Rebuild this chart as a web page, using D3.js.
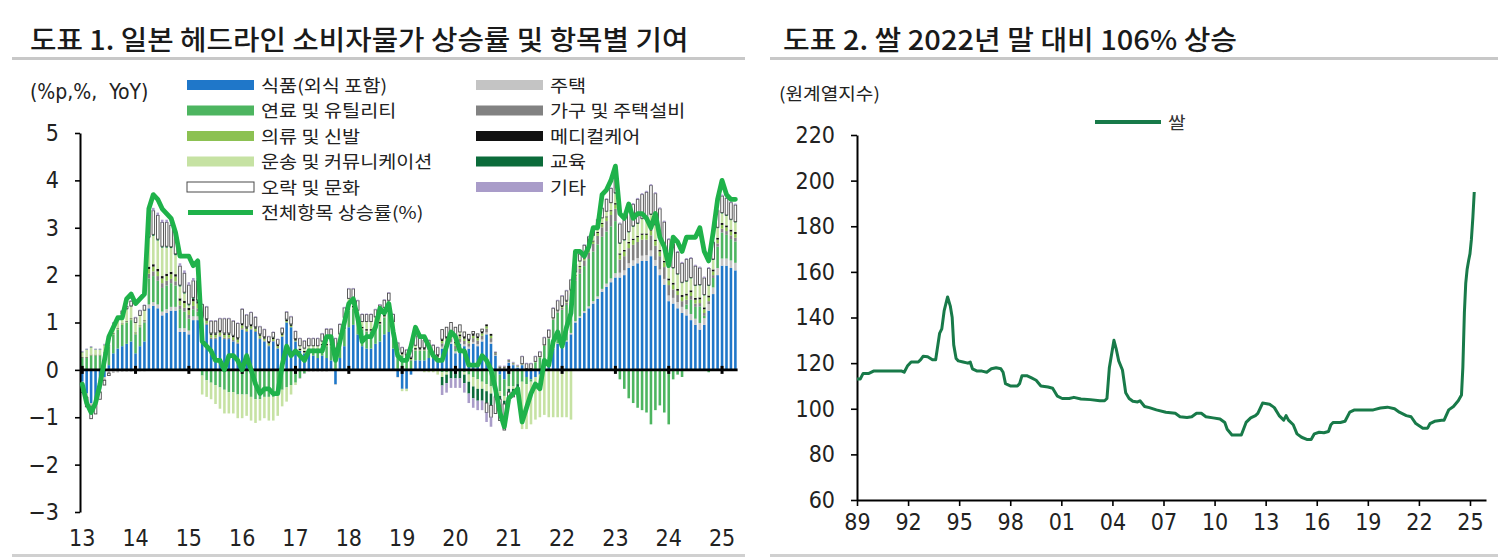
<!DOCTYPE html>
<html><head><meta charset="utf-8">
<script src="https://cdn.jsdelivr.net/npm/d3@7"></script>
<style>
html,body{margin:0;padding:0;background:#fff;}
svg{display:block;}
</style></head>
<body>
<svg id="chart" width="1500" height="560"></svg>
<script>
// ---------------- Chart 1 data (monthly, Jan 2013 - Apr 2025, %p contributions) ----------------
const startYear = 2013;
const yearLabels = ["13","14","15","16","17","18","19","20","21","22","23","24","25"];
const yTicksLeft = [-3,-2,-1,0,1,2,3,4,5];

const food = [
-0.25,-0.5,-0.7,-0.65,-0.4,-0.15,0.1,0.35,0.45,0.5,0.55,0.6,
0.35,0.5,0.6,1.3,1.35,1.3,1.15,1.2,1.25,1.25,0.8,0.8,
0.75,1.05,1.05,1.0,0.95,0.65,0.65,0.7,0.65,0.65,0.6,0.55,
0.85,0.8,0.85,0.8,0.65,0.6,0.5,0.6,0.45,0.7,1.0,0.9,
0.6,0.4,0.35,0.35,0.3,0.25,0.3,0.25,0.2,-0.3,0.25,0.5,
0.9,0.95,0.75,0.5,0.45,0.45,0.55,0.6,0.75,0.8,0.45,-0.15,
-0.4,-0.4,-0.1,0.2,0.2,0.2,0.25,0.25,0.25,0.45,0.5,0.55,
0.35,0.55,0.5,0.45,0.55,0.5,0.6,0.75,0.55,0.3,-0.1,-0.2,
0.15,0.1,0.05,0.1,-0.15,-0.2,-0.15,-0.1,0.15,0.2,0.45,0.55,
0.55,0.6,0.75,1.0,1.1,1.2,1.3,1.4,1.5,1.65,1.75,1.85,
1.95,1.95,2.0,2.15,2.2,2.25,2.3,2.3,2.4,2.2,2.0,1.8,
1.45,1.4,1.3,1.2,1.15,1.05,0.95,0.85,0.95,1.25,1.6,2.0,
2.2,2.2,2.15,2.1];

const housing = [
-0.05,-0.05,-0.05,-0.05,-0.05,-0.05,-0.05,-0.05,-0.04,-0.04,-0.04,-0.04,
-0.03,-0.03,-0.03,0.08,0.08,0.08,0.08,0.08,0.08,0.08,0.08,0.08,
0.08,0.08,0.08,-0.02,-0.02,-0.02,-0.02,-0.02,-0.02,-0.02,-0.02,-0.02,
-0.02,-0.02,-0.02,-0.02,-0.02,-0.02,-0.02,-0.02,-0.02,-0.02,-0.02,-0.02,
-0.02,-0.02,-0.02,-0.02,-0.02,-0.02,-0.02,-0.02,-0.02,-0.02,-0.02,-0.02,
-0.01,-0.01,-0.01,-0.01,-0.01,-0.01,-0.01,-0.01,-0.01,-0.01,-0.01,-0.01,
0.0,0.0,0.0,0.0,0.0,0.0,0.0,0.0,0.0,0.04,0.04,0.04,
0.04,0.04,0.04,0.04,0.04,0.04,0.04,0.04,0.04,0.01,0.01,0.01,
0.01,0.01,0.01,0.01,0.01,0.01,0.01,0.01,0.01,0.01,0.01,0.01,
0.02,0.02,0.03,0.03,0.03,0.04,0.04,0.05,0.05,0.06,0.07,0.08,
0.09,0.1,0.1,0.1,0.11,0.11,0.11,0.12,0.12,0.12,0.12,0.12,
0.12,0.12,0.13,0.13,0.13,0.13,0.13,0.14,0.14,0.14,0.14,0.15,
0.15,0.15,0.16,0.16];

const fuel = [
0.25,0.25,0.3,0.3,0.3,0.35,0.4,0.4,0.4,0.45,0.45,0.45,
0.4,0.4,0.4,0.55,0.55,0.5,0.5,0.5,0.5,0.45,0.4,0.35,
0.25,0.15,0.1,-0.1,-0.2,-0.25,-0.3,-0.35,-0.4,-0.45,-0.45,-0.5,
-0.5,-0.5,-0.55,-0.6,-0.6,-0.55,-0.55,-0.55,-0.5,-0.4,-0.35,-0.3,
-0.25,-0.15,-0.05,0.05,0.1,0.15,0.2,0.25,0.3,0.3,0.3,0.35,
0.35,0.35,0.35,0.35,0.35,0.35,0.35,0.35,0.35,0.4,0.4,0.35,
0.3,0.25,0.2,0.2,0.2,0.2,0.15,0.05,0.0,-0.05,-0.05,0.0,
0.05,0.0,-0.05,-0.1,-0.15,-0.2,-0.25,-0.3,-0.35,-0.35,-0.35,-0.35,
-0.35,-0.35,-0.3,-0.25,-0.15,-0.05,0.15,0.25,0.35,0.45,0.6,0.65,
0.7,0.75,0.8,0.85,0.9,0.95,1.0,1.05,1.1,1.1,1.1,1.1,
1.1,-0.2,-0.4,-0.6,-0.7,-0.8,-0.85,-0.9,-1.15,-0.85,-0.75,-0.9,
-1.15,-0.2,-0.1,-0.15,0.1,0.3,0.25,0.35,0.05,-0.05,0.2,0.45,
0.55,0.5,0.45,0.45];

const furniture = [
-0.03,-0.03,-0.03,-0.03,-0.02,-0.02,-0.02,-0.01,-0.01,0.0,0.0,0.01,
0.01,0.01,0.02,0.1,0.1,0.1,0.1,0.1,0.09,0.09,0.08,0.08,
0.08,0.07,0.07,0.03,0.03,0.03,0.03,0.03,0.03,0.03,0.03,0.03,
0.03,0.02,0.02,0.02,0.02,0.02,0.02,0.01,0.01,0.01,0.0,0.0,
0.0,-0.01,-0.01,-0.01,-0.01,-0.01,-0.01,-0.01,0.0,0.0,0.0,0.0,
0.0,0.0,0.0,0.01,0.01,0.01,0.01,0.01,0.01,0.01,0.01,0.01,
0.01,0.01,0.01,0.01,0.01,0.01,0.01,0.01,0.01,0.07,0.07,0.07,
0.07,0.07,0.07,0.07,0.08,0.08,0.08,0.08,0.08,0.03,0.03,0.03,
0.03,0.02,0.01,0.0,0.0,0.0,0.0,0.0,0.0,0.01,0.02,0.03,
0.04,0.05,0.06,0.08,0.1,0.12,0.14,0.16,0.18,0.2,0.22,0.24,
0.26,0.28,0.3,0.32,0.33,0.34,0.34,0.33,0.32,0.3,0.28,0.25,
0.22,0.18,0.15,0.12,0.1,0.08,0.07,0.07,0.06,0.06,0.06,0.07,
0.08,0.08,0.08,0.08];

const clothing = [
0.01,0.01,0.01,0.01,0.01,0.01,0.01,0.02,0.02,0.02,0.02,0.02,
0.02,0.02,0.02,0.1,0.1,0.1,0.1,0.1,0.1,0.1,0.1,0.1,
0.1,0.1,0.1,0.06,0.06,0.06,0.06,0.06,0.06,0.06,0.06,0.06,
0.06,0.05,0.05,0.05,0.05,0.04,0.04,0.04,0.04,0.03,0.03,0.03,
0.02,0.02,0.02,0.02,0.02,0.02,0.02,0.02,0.02,0.02,0.02,0.02,
0.02,0.02,0.02,0.02,0.02,0.02,0.02,0.02,0.02,0.02,0.02,0.02,
0.02,0.02,0.02,0.02,0.02,0.02,0.02,0.02,0.02,0.05,0.05,0.05,
0.05,0.05,0.05,0.05,0.05,0.05,0.05,0.05,0.05,0.01,0.01,0.01,
0.01,0.01,0.01,0.01,0.01,0.01,0.01,0.01,0.01,0.01,0.01,0.01,
0.02,0.02,0.03,0.03,0.04,0.04,0.05,0.05,0.06,0.07,0.08,0.08,
0.09,0.1,0.1,0.1,0.1,0.1,0.1,0.1,0.1,0.1,0.1,0.1,
0.1,0.1,0.09,0.09,0.09,0.08,0.08,0.08,0.08,0.08,0.08,0.08,
0.08,0.08,0.08,0.08];

const medical = [
0.01,0.01,0.01,0.01,0.01,0.01,0.01,0.01,0.01,0.01,0.01,0.01,
0.01,0.01,0.01,0.05,0.05,0.05,0.05,0.05,0.05,0.05,0.05,0.05,
0.05,0.05,0.05,0.03,0.03,0.03,0.03,0.03,0.03,0.03,0.03,0.03,
0.03,0.03,0.03,0.03,0.03,0.03,0.03,0.03,0.03,0.03,0.03,0.03,
0.03,0.03,0.03,0.03,0.03,0.03,0.03,0.03,0.03,0.03,0.03,0.03,
0.03,0.03,0.03,0.03,0.03,0.03,0.03,0.03,0.03,0.03,0.03,0.03,
0.03,0.03,0.03,0.03,0.03,0.03,0.03,0.03,0.03,0.04,0.04,0.04,
0.04,0.04,0.04,0.04,0.04,0.04,0.04,0.04,0.04,0.02,0.02,0.02,
0.01,0.01,0.01,0.01,0.01,0.01,0.01,0.01,0.01,0.01,0.01,0.01,
0.02,0.02,0.02,0.02,0.02,0.02,0.02,0.02,0.02,0.02,0.02,0.02,
0.03,0.03,0.03,0.03,0.03,0.03,0.03,0.03,0.03,0.03,0.03,0.03,
0.04,0.04,0.04,0.04,0.04,0.04,0.04,0.04,0.04,0.04,0.04,0.04,
0.04,0.04,0.04,0.04];

const transport = [
0.1,0.15,0.15,0.1,0.1,0.15,0.2,0.2,0.2,0.2,0.25,0.25,
0.2,0.2,0.2,0.6,0.6,0.6,0.6,0.55,0.5,0.4,0.25,0.15,
0.05,0.0,0.0,-0.4,-0.35,-0.35,-0.4,-0.45,-0.5,-0.45,-0.45,-0.5,
-0.5,-0.45,-0.5,-0.5,-0.45,-0.45,-0.5,-0.5,-0.45,-0.35,-0.3,-0.2,
-0.05,0.05,0.05,0.05,0.05,0.05,0.05,0.1,0.1,0.1,0.15,0.2,
0.2,0.15,0.1,0.1,0.15,0.15,0.15,0.2,0.15,0.2,0.1,0.0,
-0.05,-0.05,0.0,0.05,0.0,-0.05,-0.05,-0.05,-0.1,-0.1,-0.05,0.05,
0.1,0.05,-0.05,-0.15,-0.2,-0.2,-0.15,-0.15,-0.15,-0.15,-0.1,-0.1,
-0.05,-0.05,0.0,-1.0,-0.95,-0.9,-0.9,-0.9,-0.95,-1.0,-1.0,-1.0,
-1.0,-1.0,-1.05,0.05,0.1,0.1,0.1,0.1,0.1,0.1,0.1,0.15,
0.2,0.2,0.2,0.2,0.25,0.25,0.3,0.3,0.3,0.3,0.3,0.3,
0.3,0.3,0.3,0.25,0.25,0.25,0.25,0.25,0.25,0.2,0.2,0.2,
0.2,0.2,0.2,0.2];

const education = [
0.01,0.01,0.01,0.01,0.01,0.01,0.01,0.01,0.01,0.01,0.01,0.01,
0.01,0.01,0.01,0.03,0.03,0.03,0.03,0.03,0.03,0.03,0.03,0.03,
0.03,0.03,0.03,0.01,0.01,0.01,0.01,0.01,0.01,0.01,0.01,0.01,
0.01,0.01,0.01,0.01,0.01,0.01,0.01,0.01,0.01,0.01,0.01,0.01,
0.01,0.01,0.01,0.01,0.01,0.01,0.01,0.01,0.01,0.01,0.01,0.01,
0.01,0.01,0.01,0.01,0.01,0.01,0.01,0.01,0.01,0.01,0.01,0.01,
0.01,0.01,0.01,0.01,0.01,0.01,0.01,0.01,0.01,-0.18,-0.18,-0.18,
-0.18,-0.18,-0.18,-0.25,-0.25,-0.25,-0.25,-0.25,-0.25,-0.07,-0.07,-0.07,
-0.07,-0.07,-0.07,0.0,0.0,0.0,0.0,0.0,0.0,0.0,0.0,0.0,
0.01,0.01,0.01,0.01,0.01,0.01,0.01,0.01,0.01,0.01,0.01,0.01,
0.02,0.02,0.02,0.02,0.02,0.02,0.02,0.02,0.02,0.02,0.02,0.02,
0.02,0.02,0.02,0.02,0.02,0.02,0.02,0.02,0.02,0.02,0.02,0.02,
0.02,0.02,0.02,0.02];

const recreation = [
-0.15,-0.2,-0.25,-0.2,-0.15,-0.1,-0.05,0.0,0.0,0.05,0.05,0.1,
0.1,0.1,0.1,0.5,0.5,0.5,0.5,0.5,0.45,0.45,0.4,0.4,
0.4,0.35,0.4,0.25,0.25,0.25,0.25,0.25,0.3,0.3,0.3,0.3,
0.3,0.25,0.25,0.2,0.15,0.15,0.1,0.1,0.1,0.1,0.15,0.15,
0.15,0.15,0.15,0.15,0.15,0.15,0.15,0.2,0.2,0.2,0.2,0.2,
0.2,0.2,0.2,0.15,0.15,0.15,0.15,0.15,0.15,0.15,0.15,0.15,
0.1,0.1,0.15,0.2,0.2,0.15,0.15,0.15,0.15,0.2,0.2,0.2,
0.2,0.15,0.1,0.1,0.05,0.05,0.05,-0.2,-0.25,-0.35,-0.45,-0.55,
-0.1,-0.1,-0.05,0.15,0.1,0.1,0.1,0.1,0.15,0.15,0.2,0.2,
0.2,0.2,0.2,0.15,0.15,0.15,0.15,0.15,0.15,0.2,0.25,0.3,
0.35,0.4,0.4,0.5,0.45,0.5,0.5,0.55,0.6,0.65,0.55,0.5,
0.5,0.5,0.45,0.4,0.45,0.4,0.4,0.35,0.35,0.35,0.35,0.35,
0.35,0.35,0.35,0.35];

const other = [
0.02,0.02,0.02,0.02,0.02,0.02,0.02,0.02,0.02,0.02,0.02,0.02,
0.02,0.02,0.02,0.06,0.06,0.06,0.06,0.06,0.06,0.06,0.06,0.06,
0.06,0.06,0.06,0.02,0.02,0.02,0.02,0.02,0.02,0.02,0.02,0.02,
0.02,0.02,0.02,0.02,0.02,0.02,0.02,0.02,0.02,0.02,0.02,0.02,
0.02,0.02,0.02,0.02,0.02,0.02,0.02,0.02,0.02,0.02,0.02,0.02,
0.02,0.02,0.02,0.02,0.02,0.02,0.02,0.02,0.02,0.02,0.02,0.02,
0.02,0.02,0.02,0.02,0.02,0.02,0.02,0.02,0.02,-0.2,-0.2,-0.2,
-0.2,-0.2,-0.2,-0.2,-0.2,-0.2,-0.2,-0.2,-0.2,0.02,0.02,0.02,
0.02,0.02,0.02,0.02,0.02,0.02,0.02,0.02,0.02,0.02,0.02,0.02,
0.02,0.02,0.02,0.02,0.02,0.02,0.02,0.02,0.02,0.02,0.02,0.02,
0.03,0.03,0.03,0.03,0.03,0.03,0.03,0.03,0.03,0.03,0.03,0.03,
0.03,0.03,0.03,0.03,0.03,0.03,0.03,0.03,0.03,0.03,0.03,0.03,
0.03,0.03,0.03,0.03];

const totalCPI = [
-0.3,-0.7,-0.9,-0.7,-0.3,0.2,0.7,0.9,1.1,1.1,1.5,1.6,
1.4,1.5,1.6,3.4,3.7,3.6,3.4,3.3,3.2,2.9,2.4,2.4,
2.4,2.2,2.3,0.6,0.5,0.4,0.2,0.2,0.0,0.3,0.3,0.2,
0.0,0.3,0.0,-0.3,-0.5,-0.4,-0.4,-0.5,-0.5,0.1,0.5,0.3,
0.4,0.3,0.2,0.4,0.4,0.4,0.4,0.7,0.7,0.2,0.6,1.0,
1.4,1.5,1.1,0.6,0.7,0.7,0.9,1.3,1.2,1.4,0.8,0.3,
0.2,0.2,0.5,0.9,0.7,0.7,0.5,0.3,0.2,0.2,0.5,0.8,
0.7,0.4,0.4,0.1,0.1,0.1,0.3,0.2,0.0,-0.4,-0.9,-1.2,
-0.6,-0.5,-0.4,-1.1,-0.8,-0.5,-0.3,-0.4,0.2,0.1,0.6,0.8,
0.5,0.9,1.2,2.5,2.5,2.4,2.6,3.0,3.0,3.7,3.8,4.0,
4.3,3.3,3.2,3.5,3.2,3.3,3.3,3.2,3.0,3.3,2.8,2.6,
2.2,2.8,2.7,2.5,2.8,2.8,2.8,3.0,2.5,2.3,2.9,3.6,
4.0,3.7,3.6,3.6];

// ---------------- Chart 2 data (rice CPI, original series) ----------------
const riceDates = [
1989.00,1989.19,1989.36,1989.70,1989.97,1991.63,1991.77,1991.96,1992.18,1992.60,
1992.74,1992.88,1993.15,1993.43,1993.62,1993.85,1993.98,1994.12,1994.32,1994.48,
1994.59,1994.68,1994.82,1994.95,1995.23,1995.51,1995.65,1995.78,1996.06,1996.34,
1996.62,1996.89,1997.17,1997.45,1997.58,1997.72,1998.00,1998.42,1998.55,1998.69,
1998.97,1999.25,1999.52,1999.80,2000.22,2000.49,2000.77,2001.05,2001.46,2001.74,
2002.15,2002.71,2003.26,2003.54,2003.68,2003.82,2004.09,2004.23,2004.37,2004.59,
2004.78,2004.98,2005.20,2005.48,2005.62,2005.89,2006.17,2006.58,2007.14,2007.69,
2007.97,2008.38,2008.66,2008.94,2009.22,2009.49,2009.91,2010.32,2010.60,2010.74,
2011.02,2011.57,2011.85,2012.12,2012.40,2012.54,2012.82,2013.23,2013.51,2013.79,
2014.06,2014.20,2014.34,2014.62,2014.84,2015.11,2015.45,2015.67,2015.86,2016.14,
2016.42,2016.69,2016.83,2016.97,2017.39,2017.66,2017.94,2018.22,2018.77,2019.32,
2019.74,2020.15,2020.57,2020.85,2021.26,2021.54,2021.82,2022.23,2022.51,2022.65,
2022.92,2023.34,2023.48,2023.75,2024.03,2024.31,2024.50,2024.58,2024.67,2024.75,
2024.83,2024.92,2025.00,2025.08,2025.17,2025.25];
const riceValues = [
113,113,115.5,115.5,116.5,116.5,116,118.7,120.5,120.5,
121.5,123,122.8,121.5,121.5,133,135,143,149,145,
140,128,122,121,120.5,120,120.5,117.5,116.5,116.5,
116,117.5,118,117.5,116,111,110,110,111,114.5,
114.5,113.5,112.5,110,109.5,109,105.5,104.5,104.5,105,
104.3,104,103.5,103.5,104.5,118,130,126,121,117,
107,104.5,103.3,103,103.5,101,100.5,99.5,98.5,98,
96.5,96.2,96.5,98,98,96.5,96,95.5,94,91,
88.5,88.5,94,96,97,98,102.5,102,100.5,97,
95,97,95,93,89,87.5,86.5,86.5,89,89.7,
89.5,90,93,94,94,94.5,98.5,99.5,99.5,99.5,
100.3,100.7,100,98.5,97,96.5,93.5,91.5,91.5,93.5,
94.5,95,95,99.5,101,103.5,106,118,142,155,
161,165,168,174,184,195];
const riceYearTicks = [1989,1992,1995,1998,2001,2004,2007,2010,2013,2016,2019,2022,2025];
const riceYTicks = [60,80,100,120,140,160,180,200,220];

// ---------------- series meta (stack order follows legend row order) ----------------
const seriesDefs = [
  {key:"food",       name:"식품(외식 포함)",     values:food,       fill:"#1f77c9"},
  {key:"housing",    name:"주택",               values:housing,    fill:"#c4c4c4"},
  {key:"fuel",       name:"연료 및 유틸리티",     values:fuel,       fill:"#4db560"},
  {key:"furniture",  name:"가구 및 주택설비",     values:furniture,  fill:"#828282"},
  {key:"clothing",   name:"의류 및 신발",         values:clothing,   fill:"#8cc152"},
  {key:"medical",    name:"메디컬케어",           values:medical,    fill:"#111111"},
  {key:"transport",  name:"운송 및 커뮤니케이션",  values:transport,  fill:"#c6e2a3"},
  {key:"education",  name:"교육",               values:education,  fill:"#0b6b3a"},
  {key:"recreation", name:"오락 및 문화",         values:recreation, fill:"#ffffff", stroke:"#4a4a4a"},
  {key:"other",      name:"기타",               values:other,      fill:"#a99cc9"}
];

const KR = "'Noto Sans CJK KR','Noto Sans',sans-serif";
const NUM = "'Liberation Sans Narrow','DejaVu Sans Condensed','Liberation Sans',sans-serif";
const svg = d3.select("#chart");

// frame lines
svg.append("rect").attr("x",12).attr("y",57).attr("width",733).attr("height",3).attr("fill","#c8c8c8");
svg.append("rect").attr("x",770).attr("y",57).attr("width",728).attr("height",3).attr("fill","#c8c8c8");
svg.append("rect").attr("x",12).attr("y",554).attr("width",733).attr("height",3).attr("fill","#d0d0d0");
svg.append("rect").attr("x",770).attr("y",554).attr("width",728).attr("height",3).attr("fill","#d0d0d0");

// titles
function wideText(x, y, txt, size, sx, weight, fill) {
  return svg.append("text").attr("transform",`translate(${x},${y}) scale(${sx},1)`).text(txt)
    .attr("font-family",KR).attr("font-size",size).attr("font-weight",weight).attr("fill",fill);
}
wideText(30, 50, "도표 1. 일본 헤드라인 소비자물가 상승률 및 항목별 기여", 27, 1.065, 500, "#1a1a1a");
wideText(783, 50, "도표 2. 쌀 2022년 말 대비 106% 상승", 27, 1.075, 500, "#1a1a1a");

// ================= LEFT CHART =================
const n = totalCPI.length;
const months = d3.range(n);
const rows = months.map(i => {
  const r = {i};
  seriesDefs.forEach(s => r[s.key] = s.values[i]);
  return r;
});
const xL = d3.scaleBand().domain(months).range([80, 737.6]).paddingInner(0.42).paddingOuter(0.21);
const yL = d3.scaleLinear().domain([-3,5]).range([512,133]);
const cx = i => xL(i) + xL.bandwidth()/2;

const stack = d3.stack().keys(seriesDefs.map(s=>s.key)).offset(d3.stackOffsetDiverging);
const stacked = stack(rows);

const gBars = svg.append("g");
stacked.forEach((layer, li) => {
  const s = seriesDefs[li];
  gBars.append("g")
    .selectAll("rect").data(layer).join("rect")
    .attr("x", d => xL(d.data.i))
    .attr("width", xL.bandwidth())
    .attr("y", d => yL(Math.max(d[0], d[1])))
    .attr("height", d => Math.abs(yL(d[0]) - yL(d[1])))
    .attr("fill", s.fill)
    .attr("stroke", s.stroke || "none")
    .attr("stroke-width", s.stroke ? 0.9 : 0);
});

// zero line + year ticks
svg.append("line").attr("x1",80).attr("x2",737.6).attr("y1",yL(0)).attr("y2",yL(0))
  .attr("stroke","#000").attr("stroke-width",2.6);
const janIdx = yearLabels.map((_,k)=>k*12);
svg.append("g").selectAll("rect").data(janIdx).join("rect")
  .attr("x", i => cx(i)-1.5).attr("width",3)
  .attr("y", yL(0)-4).attr("height",8).attr("fill","#000");

// left y axis
const axL = d3.axisLeft(yL).tickValues(yTicksLeft).tickSize(5).tickSizeOuter(0).tickPadding(16)
  .tickFormat(d => d < 0 ? "\u2212" + Math.abs(d) : String(d));
const gAxL = svg.append("g").attr("transform","translate(80,0)").call(axL);
gAxL.select(".domain").attr("stroke","#000").attr("stroke-width",2);
gAxL.selectAll(".tick line").attr("stroke","#000").attr("stroke-width",1.6);
gAxL.selectAll("text").attr("font-family",NUM).attr("font-size",23).attr("fill","#222");

// left x labels
svg.append("g").selectAll("text").data(yearLabels).join("text")
  .attr("x",(d,k)=>cx(k*12)).attr("y",546).attr("text-anchor","middle")
  .attr("font-family",NUM).attr("font-size",23).attr("fill","#222").text(d=>d);

// total line
const lineL = d3.line().x((d,i)=>cx(i)).y(d=>yL(d)).curve(d3.curveLinear);
svg.append("path").datum(totalCPI).attr("d",lineL).attr("fill","none")
  .attr("stroke","#1fb24a").attr("stroke-width",4.8).attr("stroke-linejoin","round").attr("stroke-linecap","round");

// unit label
svg.append("text").attr("x",30).attr("y",99).text("(%p,%,\u00a0\u00a0YoY)")
  .attr("font-family",NUM).attr("font-size",21).attr("fill","#222");

// legend
const legCol1 = ["food","fuel","clothing","transport","recreation"];
const legCol2 = ["housing","furniture","medical","education","other"];
const rowY = [85,110.5,136,161.5,187,212.5];
const legend = svg.append("g");
function legText(x, y, txt) {
  legend.append("text").attr("transform",`translate(${x},${y}) scale(1.13,1)`).text(txt)
    .attr("font-family",KR).attr("font-size",17.4).attr("fill","#222");
}
function legItem(x, y, s) {
  legend.append("rect").attr("x",x).attr("y",y-5).attr("width",67).attr("height",10)
    .attr("fill",s.fill).attr("stroke",s.stroke||"none").attr("stroke-width",s.stroke?1:0);
  legText(x+74, y+6.5, s.name);
}
legCol1.forEach((k,r)=>legItem(187,rowY[r],seriesDefs.find(s=>s.key===k)));
legCol2.forEach((k,r)=>legItem(476,rowY[r],seriesDefs.find(s=>s.key===k)));
legend.append("line").attr("x1",188).attr("x2",253).attr("y1",rowY[5]).attr("y2",rowY[5])
  .attr("stroke","#1fb24a").attr("stroke-width",5);
legText(261, rowY[5]+6.5, "전체항목 상승률(%)");

// ================= RIGHT CHART =================
const xR = d3.scaleLinear().domain([1989, 2025.94]).range([857, 1486]);
const yR = d3.scaleLinear().domain([60,220]).range([500,135]);

const axRY = d3.axisLeft(yR).tickValues(riceYTicks).tickSize(6).tickSizeOuter(0).tickPadding(16);
const gRY = svg.append("g").attr("transform","translate(857,0)").call(axRY);
gRY.select(".domain").attr("stroke","#000").attr("stroke-width",2);
gRY.selectAll(".tick line").attr("stroke","#000").attr("stroke-width",1.6);
gRY.selectAll("text").attr("font-family",NUM).attr("font-size",23).attr("fill","#222");

const axRX = d3.axisBottom(xR).tickValues(riceYearTicks).tickSize(6).tickSizeOuter(0).tickPadding(8)
  .tickFormat(d => String(d).slice(2));
const gRX = svg.append("g").attr("transform","translate(0,500)").call(axRX);
gRX.select(".domain").attr("stroke","#000").attr("stroke-width",2);
gRX.selectAll(".tick line").attr("stroke","#000").attr("stroke-width",1.6);
gRX.selectAll("text").attr("font-family",NUM).attr("font-size",23).attr("fill","#222");

const lineR = d3.line().x((d,i)=>xR(riceDates[i])).y(d=>yR(d));
svg.append("path").datum(riceValues).attr("d",lineR).attr("fill","none")
  .attr("stroke","#187a49").attr("stroke-width",3).attr("stroke-linejoin","round");

svg.append("text").attr("transform","translate(779,100) scale(1.1,1)").text("(원계열지수)")
  .attr("font-family",KR).attr("font-size",17.4).attr("fill","#222");
svg.append("line").attr("x1",1095).attr("x2",1161).attr("y1",122).attr("y2",122)
  .attr("stroke","#187a49").attr("stroke-width",4);
svg.append("text").attr("transform","translate(1168,128.5) scale(1.1,1)").text("쌀")
  .attr("font-family",KR).attr("font-size",17.4).attr("fill","#333");
</script>
</body></html>
